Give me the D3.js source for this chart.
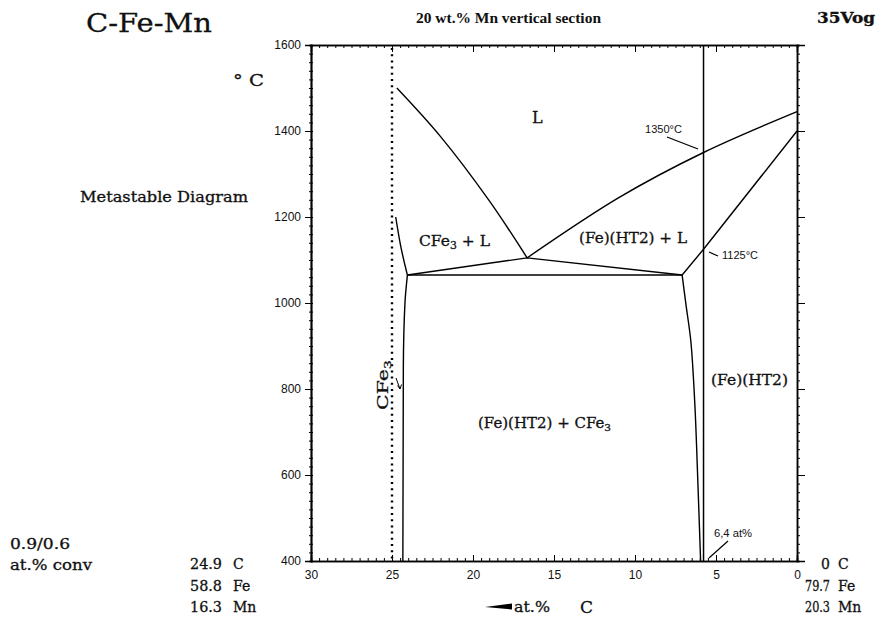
<!DOCTYPE html>
<html><head><meta charset="utf-8">
<script src="https://cdn.jsdelivr.net/npm/d3@7"></script>
<style>body{margin:0;background:#fff}svg{display:block}</style>
</head><body>
<script>
// ---- data ----
const xTicks = [30, 25, 20, 15, 10, 5, 0];
const yTicks = [400, 600, 800, 1000, 1200, 1400, 1600];
// phase boundaries [at.% C, °C]
const liquidusCFe3 = [[24.7, 1500], [22.0, 1387], [19.0, 1238], [16.66, 1105]];
const liquidusFe = [[16.66, 1105], [11.0, 1245], [5.77, 1350], [0, 1445]];
const solidusFe = [[0, 1400], [5.77, 1125], [7.09, 1065]];
const threePhaseTop = [[24.05, 1065], [16.66, 1105], [7.09, 1065]];
const threePhaseLine = [[24.05, 1065], [7.09, 1065]];
const cfe3Upper = [[24.77, 1200], [24.45, 1130], [24.05, 1065]];
const cfe3Lower = [[24.05, 1065], [24.2, 1000], [24.3, 850], [24.33, 400]];
const feBoundary = [[7.09, 1065], [6.85, 995], [6.55, 910], [6.3, 760], [6.14, 605], [5.95, 400]];
const cfe3Comp = 25;      // dotted line
const alloyComp = 5.77;   // solid vertical section line
const leftComp = ["24.9", "58.8", "16.3"];
const rightComp = ["0", "79.7", "20.3"];
const compEls = ["C", "Fe", "Mn"];

const W = 882, H = 623;
const svg = d3.select("body").append("svg").attr("width", W).attr("height", H);
const x = d3.scaleLinear().domain([30, 0]).range([311, 797]);
const y = d3.scaleLinear().domain([400, 1600]).range([561, 45]);
const serif = "'DejaVu Serif', serif";
const sans = "'Liberation Sans', Arial, sans-serif";

// ---- axes ----
const xMinor = d3.range(0, 30.01, 0.5);
const yMinor = d3.range(400, 1600.1, 20);
function ax(gen, tx, ty) {
  return svg.append("g").attr("transform", `translate(${tx},${ty})`).call(gen)
    .call(g => g.select(".domain").attr("stroke", "#000").attr("stroke-width", 1.5));
}
// bottom: ticks inward, labels outside
ax(d3.axisTop(x).tickValues(xMinor).tickSize(3).tickFormat(""), 0, 561);
ax(d3.axisTop(x).tickValues(xTicks).tickSize(6).tickFormat(""), 0, 561);
svg.append("g").attr("transform", "translate(0,561)")
  .call(d3.axisBottom(x).tickValues(xTicks).tickSize(0).tickPadding(9).tickFormat(d3.format("d")))
  .call(g => g.select(".domain").remove())
  .selectAll("text").attr("font-family", sans).attr("font-size", 12).attr("fill", "#111");
// top: ticks inward
ax(d3.axisBottom(x).tickValues(xMinor).tickSize(3).tickFormat(""), 0, 45);
ax(d3.axisBottom(x).tickValues(xTicks).tickSize(7).tickFormat(""), 0, 45);
// left
ax(d3.axisRight(y).tickValues(yMinor).tickSize(2).tickFormat(""), 311, 0);
ax(d3.axisLeft(y).tickValues(yMinor).tickSize(2).tickFormat(""), 311, 0);
svg.append("g").attr("transform", "translate(311,0)")
  .call(d3.axisLeft(y).tickValues(yTicks).tickSize(6).tickPadding(4).tickFormat(d3.format("d")))
  .call(g => g.select(".domain").attr("stroke", "#000").attr("stroke-width", 1.5))
  .selectAll("text").attr("font-family", sans).attr("font-size", 12).attr("fill", "#111");
// right
ax(d3.axisRight(y).tickValues(yMinor).tickSize(3).tickFormat(""), 797, 0);
ax(d3.axisRight(y).tickValues(yTicks).tickSize(8).tickFormat(""), 797, 0);
svg.selectAll(".tick line").attr("stroke", "#000").attr("stroke-width", 1);

// ---- lines ----
const line = d3.line().x(d => x(d[0])).y(d => y(d[1]));
const curveX = d3.line().x(d => x(d[0])).y(d => y(d[1])).curve(d3.curveCatmullRom);
const curveY = d3.line().x(d => x(d[0])).y(d => y(d[1])).curve(d3.curveMonotoneY);
function path(data, gen, sw) {
  svg.append("path").datum(data).attr("d", gen).attr("fill", "none")
    .attr("stroke", "#000").attr("stroke-width", sw || 1.4).attr("stroke-linejoin", "round");
}
path(liquidusCFe3, curveX);
path(liquidusFe, curveX);
path(solidusFe, line);
path(threePhaseTop, line);
path(threePhaseLine, line);
path(cfe3Upper, curveX);
path(cfe3Lower, curveY);
path(feBoundary, curveX);
// dotted CFe3 composition line
svg.append("line").attr("x1", x(cfe3Comp)).attr("x2", x(cfe3Comp)).attr("y1", y(1600) + 3).attr("y2", y(400))
  .attr("stroke", "#000").attr("stroke-width", 2.4).attr("stroke-dasharray", "2,4.2");
// vertical section line
svg.append("line").attr("x1", x(alloyComp)).attr("x2", x(alloyComp)).attr("y1", y(1600)).attr("y2", y(400))
  .attr("stroke", "#000").attr("stroke-width", 1.5);

// ---- text ----
function t(px, py, s, o) {
  o = o || {};
  const el = svg.append("text").attr("x", px).attr("y", py)
    .attr("font-family", o.ff || serif).attr("font-size", o.fs || 14)
    .attr("font-weight", o.fw || "normal").attr("text-anchor", o.a || "start").attr("fill", "#111");
  if (!o.ff) el.attr("stroke", "#111").attr("stroke-width", 0.3);
  if (o.len) el.attr("textLength", o.len).attr("lengthAdjust", "spacingAndGlyphs");
  if (o.rot) el.attr("transform", `rotate(${o.rot},${px},${py})`);
  if (Array.isArray(s)) {
    s.forEach(p => {
      const ts = el.append("tspan").text(p.t);
      if (p.sub) ts.attr("font-size", (o.fs || 14) * 0.7).attr("dy", 3);
      if (p.up) ts.attr("dy", -3);
    });
  } else el.text(s);
  return el;
}
t(86, 32, "C-Fe-Mn", { fs: 26, len: 126 });
t(416, 23, "20 wt.% Mn vertical section", { fs: 15, fw: "bold", ff: "'Liberation Serif', serif", len: 185 });
t(817, 23, "35Vog", { fs: 14, fw: "bold", len: 58 });
t(233, 86, "° C", { fs: 17, len: 31 });
t(80, 202, "Metastable Diagram", { fs: 14, len: 168 });
t(10, 549, "0.9/0.6", { fs: 14, len: 60 });
t(10, 570, "at.% conv", { fs: 14, len: 82 });
compEls.forEach((e, i) => {
  t(222, 569 + i * 21.5, leftComp[i], { fs: 14, a: "end", len: leftComp[i].length > 1 ? 32 : null });
  t(233, 569 + i * 21.5, e, { fs: 14 });
  t(830, 569 + i * 21.5, rightComp[i], { fs: 14, a: "end", len: rightComp[i].length > 1 ? 25 : null });
  t(838, 569 + i * 21.5, e, { fs: 14 });
});
// axis title
svg.append("path").attr("d", "M485,607 L512,603.5 L512,609.5 Z").attr("fill", "#000");
t(514, 612, "at.%", { fs: 14, len: 36 });
t(580, 613, "C", { fs: 17 });

// region labels
t(532, 123, "L", { fs: 16 });
t(419, 246, [{ t: "CFe" }, { t: "3", sub: true }, { t: " + L", up: true }], { fs: 15, len: 71 });
t(579, 243, "(Fe)(HT2) + L", { fs: 15, len: 108 });
t(478, 428, [{ t: "(Fe)(HT2) + CFe" }, { t: "3", sub: true }], { fs: 14, len: 133 });
t(711, 385, "(Fe)(HT2)", { fs: 14, len: 77 });
t(388, 410, [{ t: "CFe" }, { t: "3", sub: true }], { fs: 14, rot: -90, len: 50 });
// small arrow to CFe3 boundary
svg.append("path").attr("d", "M396,378 L400,389 M397.5,385.5 L400,389 L401.5,384.5").attr("stroke", "#000").attr("fill", "none").attr("stroke-width", 1);

// annotations
t(645, 133, "1350°C", { ff: sans, fs: 10, len: 37 });
svg.append("line").attr("x1", 667).attr("y1", 137).attr("x2", 698).attr("y2", 149).attr("stroke", "#000").attr("stroke-width", 1.3);
t(722, 259, "1125°C", { ff: sans, fs: 10, len: 36 });
svg.append("line").attr("x1", 709).attr("y1", 252).attr("x2", 718).attr("y2", 256).attr("stroke", "#000").attr("stroke-width", 1.3);
t(714, 537, "6,4 at%", { ff: sans, fs: 10, len: 38 });
svg.append("line").attr("x1", 728).attr("y1", 541).attr("x2", 709).attr("y2", 558).attr("stroke", "#000").attr("stroke-width", 1.2);
</script>
</body></html>
